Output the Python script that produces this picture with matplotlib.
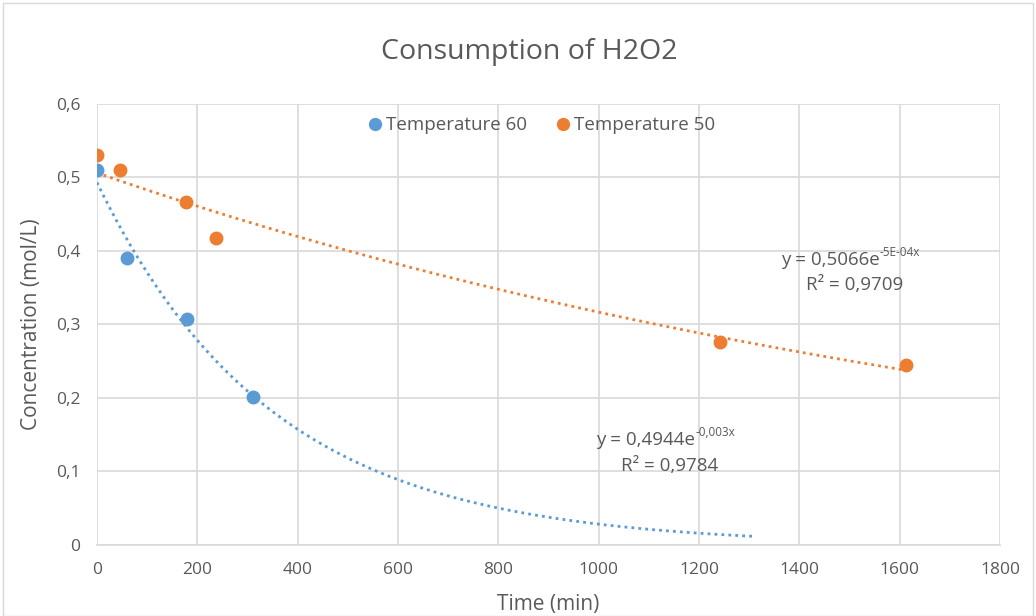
import matplotlib
matplotlib.use("Agg")

import matplotlib.pyplot as plt
import numpy as np
from matplotlib.ticker import FuncFormatter, MultipleLocator
from matplotlib.patches import Rectangle

plt.rcParams.update({
    "font.family": ["Open Sans", "DejaVu Sans"],
    "font.size": 12,
})

# data
time_60 = [0, 60, 179, 311]
conc_60 = [0.51, 0.391, 0.307, 0.201]
time_50 = [0, 46, 177, 237, 1242, 1612]
conc_50 = [0.531, 0.51, 0.466, 0.417, 0.276, 0.245]
trend_end_60 = 1311  # excel forward forecast
labels = ["Temperature 60", "Temperature 50"]
eq_60 = ("0,4944", "-0,003x", "0,9784")
eq_50 = ("0,5066", "-5E-04x", "0,9709")

BLUE = "#5B9BD5"
ORANGE = "#ED7D31"
GREY = "#595959"
GRID = "#D9D9D9"


def exp_fit(x, y):
    b, ln_a = np.polyfit(np.asarray(x, float), np.log(y), 1)
    return np.exp(ln_a), b


def trend_label(ax, x, y, eq, r2_x, r2_y):
    t = ax.text(x, y, "y = " + eq[0] + "e", ha="left", va="center",
                color=GREY, fontsize=13.5)
    ax.annotate(eq[1], xy=(1.0, 0.55), xycoords=t, ha="left", va="bottom",
                color=GREY, fontsize=8.5)
    ax.text(r2_x, r2_y, "R² = " + eq[2], ha="center", va="center",
            color=GREY, fontsize=13.5)


fig = plt.figure(figsize=(10.36, 6.16), dpi=100)
ax = fig.add_axes([0.0936, 0.1153, 0.8716, 0.7159])

fig.patches.append(Rectangle((0.003, 0.0), 0.994, 0.995, transform=fig.transFigure,
                             fill=False, edgecolor=GRID, linewidth=1))

# trendlines
a60, b60 = exp_fit(time_60, conc_60)
xs = np.linspace(0, trend_end_60, 300)
ax.plot(xs, a60 * np.exp(b60 * xs), color=BLUE, linestyle=(0, (1, 1.5)),
        linewidth=2, zorder=2)
a50, b50 = exp_fit(time_50, conc_50)
xs = np.linspace(0, max(time_50), 300)
ax.plot(xs, a50 * np.exp(b50 * xs), color=ORANGE, linestyle=(0, (1, 1.5)),
        linewidth=2, zorder=2)

ax.plot(time_60, conc_60, "o", color=BLUE, markersize=9, label=labels[0], zorder=3)
ax.plot(time_50, conc_50, "o", color=ORANGE, markersize=9, label=labels[1], zorder=3)

ax.set_xlim(0, 1800)
ax.set_ylim(0, 0.6)
ax.xaxis.set_major_locator(MultipleLocator(200))
ax.yaxis.set_major_locator(MultipleLocator(0.1))
ax.yaxis.set_major_formatter(FuncFormatter(
    lambda v, p: "0" if abs(v) < 1e-9 else f"{v:.1f}".replace(".", ",")))
ax.grid(True, color=GRID, linewidth=1.2)
ax.set_axisbelow(True)
for s in ["top", "right", "left"]:
    ax.spines[s].set_visible(False)
ax.spines["bottom"].set_color(GRID)
ax.spines["bottom"].set_linewidth(1.2)
ax.tick_params(length=0, colors=GREY, labelsize=12.5, pad=12)

ax.set_xlabel("Time (min)", color=GREY, fontsize=15, labelpad=12)
ax.set_ylabel("Concentration (mol/L)", color=GREY, fontsize=15, labelpad=10)
fig.text(0.5105, 0.915, "Consumption of H2O2", ha="center", va="center",
         color=GREY, fontsize=20.5)

ax.legend(loc="upper center", bbox_to_anchor=(0.493, 1.01), ncol=2, frameon=False,
          handlelength=0.6, handletextpad=0.3, columnspacing=1.6, markerscale=0.95,
          labelcolor=GREY, fontsize=13.5)

trend_label(ax, 1363, 0.388, eq_50, 1511, 0.354)
trend_label(ax, 995, 0.143, eq_60, 1142, 0.1075)

fig.savefig("out.png", dpi=100)
